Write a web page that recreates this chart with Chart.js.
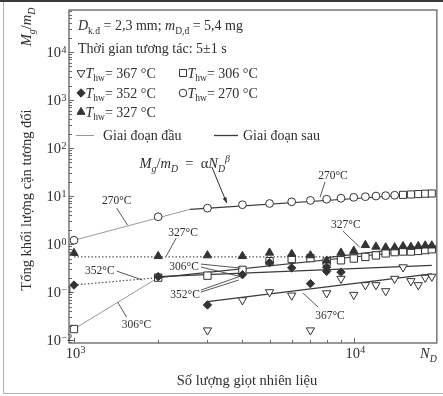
<!DOCTYPE html>
<html lang="vi">
<head>
<meta charset="utf-8">
<title>Tổng khối lượng cặn tương đối</title>
<script src="https://cdn.jsdelivr.net/npm/chart.js@4.4.1/dist/chart.umd.min.js"></script>
<style>
  html, body { margin: 0; padding: 0; background: #fff; }
  #box { position: relative; width: 443px; height: 396px; }
</style>
</head>
<body>
<div id="box"><canvas id="canChart"></canvas></div>
<script>
// measured M_g/m_D against droplet count N_D, one pair of arrays per wall temperature
const nD367 = [3000, 4000, 5000, 6000, 7000, 8000, 9000, 10000, 11000, 12000, 13000, 14000, 15000, 16000, 17000, 18000, 19000];
const mg367 = [0.016, 0.068, 0.1, 0.085, 0.016, 0.095, 0.19, 0.088, 0.14, 0.14, 0.105, 0.19, 0.33, 0.17, 0.14, 0.2, 0.21];

const nD352 = [1000, 2000, 3000, 4000, 5000, 6000, 7000, 8000, 8000, 9000];
const mg352 = [0.14, 0.21, 0.054, 0.23, 0.41, 0.32, 0.15, 0.33, 0.27, 0.26];

const nD327 = [1000, 2000, 3000, 4000, 5000, 6000, 7000, 8000, 9000, 10000, 11000, 12000, 13000, 14000, 15000, 16000, 17000, 18000, 19000];
const mg327 = [0.65, 0.56, 0.58, 0.56, 0.66, 0.62, 0.58, 0.45, 0.66, 0.72, 0.95, 0.88, 0.85, 0.85, 0.9, 0.87, 0.9, 0.93, 0.93];

const nD306 = [1000, 2000, 3000, 4000, 5000, 6000, 7000, 8000, 9000, 10000, 11000, 12000, 13000, 14000, 15000, 16000, 17000, 18000, 19000];
const mg306 = [0.017, 0.2, 0.22, 0.29, 0.44, 0.49, 0.51, 0.43, 0.46, 0.5, 0.54, 0.58, 0.64, 0.68, 0.7, 0.7, 0.72, 0.75, 0.78];

const nD270 = [1000, 2000, 3000, 4000, 5000, 6000, 7000, 8000, 9000, 10000, 11000, 12000, 13000, 14000, 15000, 16000, 17000, 18000, 19000];
const mg270 = [1.2, 3.7, 5.6, 6.6, 7.0, 7.6, 8.1, 8.6, 9.0, 9.4, 9.7, 10.0, 10.2, 10.4, 10.6, 10.8, 11.0, 11.2, 11.3];
const shape270 = ['circle', 'circle', 'circle', 'circle', 'circle', 'circle', 'circle', 'circle', 'circle', 'circle',
                  'circle', 'circle', 'circle', 'circle', 'rect', 'rect', 'rect', 'rect', 'rect'];

// fitted power-law segments M_g/m_D = a*N_D^b, [N_D, M_g/m_D] at each end
const early270 = [[1000, 1.2], [2600, 5.3]];
const late270 = [[2600, 5.3], [19000, 11.3]];
const early327 = [[1000, 0.54], [8500, 0.54]];
const late327 = [[8000, 0.52], [19000, 0.95]];
const early352 = [[1000, 0.14], [2000, 0.2]];
const late352 = [[2000, 0.21], [19000, 0.36]];
const early306 = [[1000, 0.017], [2000, 0.2]];
const late306 = [[2000, 0.2], [19000, 0.8]];
const late367 = [[3000, 0.063], [19000, 0.24]];

// decades that get a "10^n" label
const xDecades = [3, 4];
const yDecades = [-2, -1, 0, 1, 2, 3, 4];

const SERIF = '"Liberation Serif", "Times New Roman", serif';
const INK = '#2e2e2e';

const pts = (xs, ys) => xs.map((v, i) => ({ x: v, y: ys[i] }));
const seg = p => p.map(q => ({ x: q[0], y: q[1] }));

function marks(xs, ys, style, fill, radius, rotation) {
  return {
    data: pts(xs, ys), showLine: false,
    pointStyle: style, pointRadius: radius, pointRotation: rotation || 0,
    pointBackgroundColor: fill, pointBorderColor: '#333', pointBorderWidth: 1
  };
}
function fit(p, dotted) {
  return {
    data: seg(p), showLine: true, pointRadius: 0,
    borderColor: dotted ? '#555' : '#3a3a3a',
    borderWidth: 1.2,
    borderDash: dotted ? [1.5, 2] : []
  };
}
function thin(p) {
  return { data: seg(p), showLine: true, pointRadius: 0, borderColor: '#9a9a9a', borderWidth: 1 };
}

// rich text: parts are [text, flags], flags: i = italic, b = subscript, p = superscript
function rich(ctx, parts, x, y, size, align) {
  const runs = parts.map(([t, f = '']) => {
    const small = f.includes('b') || f.includes('p');
    const font = (f.includes('i') ? 'italic ' : '') + (small ? size * 0.68 : size) + 'px ' + SERIF;
    ctx.font = font;
    const dy = f.includes('b') ? size * 0.28 : f.includes('p') ? -size * 0.42 : 0;
    return { t, font, dy, w: ctx.measureText(t).width };
  });
  const total = runs.reduce((s, r) => s + r.w, 0);
  let cx = align === 'center' ? x - total / 2 : align === 'right' ? x - total : x;
  ctx.textAlign = 'left';
  ctx.textBaseline = 'alphabetic';
  runs.forEach(r => { ctx.font = r.font; ctx.fillText(r.t, cx, y + r.dy); cx += r.w; });
}

function line(ctx, x1, y1, x2, y2) {
  ctx.beginPath(); ctx.moveTo(x1, y1); ctx.lineTo(x2, y2); ctx.stroke();
}

function symbol(ctx, style, fill, radius, rotation, px, py) {
  ctx.save();
  ctx.fillStyle = fill; ctx.strokeStyle = '#333'; ctx.lineWidth = 1;
  Chart.helpers.drawPoint(ctx, { pointStyle: style, radius: radius, rotation: rotation, borderWidth: 1 }, px, py);
  ctx.restore();
}

// temperature callouts, label centre and leader ends in data units
const callouts = [
  { t: '270°C', at: [1421, 8.25], legs: [[[1421, 5.62], [1554, 2.49]]] },
  { t: '270°C', at: [8424, 27.4], legs: [[[7894, 19.6], [7577, 9.53]]] },
  { t: '327°C', at: [2455, 1.78], legs: [[[2319, 1.33], [2137, 0.56]]] },
  { t: '327°C', at: [9368, 2.61], legs: [[[9140, 1.87], [10503, 0.866]]] },
  { t: '352°C', at: [1237, 0.287], legs: [[[1421, 0.274], [1757, 0.178]]] },
  { t: '306°C', at: [2475, 0.348], legs: [[[2844, 0.383], [3941, 0.316]], [[2844, 0.332], [3879, 0.215]]] },
  { t: '352°C', at: [2496, 0.091], legs: [[[2844, 0.11], [3941, 0.215]], [[2844, 0.1], [3879, 0.178]]] },
  { t: '306°C', at: [1673, 0.0215], legs: [[[1541, 0.0302], [1432, 0.0619]]] },
  { t: '367°C', at: [8222, 0.0332], legs: [[[7453, 0.0487], [6592, 0.095]]] }
];
const formulaAt = [1714, 48.7];
const formulaArrow = [[3111, 40.2], [3516, 7.15]];

const decor = {
  id: 'decor',
  beforeDraw(chart) {
    const ctx = chart.ctx;
    ctx.save();
    ctx.fillStyle = '#fff';
    ctx.fillRect(0, 0, chart.width, chart.height);
    ctx.restore();
  },
  afterDraw(chart) {
    const { ctx, chartArea: a, scales: { x, y } } = chart;
    const X = v => x.getPixelForValue(v);
    const Y = v => y.getPixelForValue(v);
    ctx.save();

    // outer edge of the figure
    ctx.fillStyle = '#3c3c3c';
    ctx.fillRect(0, 0, chart.width, 2);
    ctx.strokeStyle = '#b0b0b0'; ctx.lineWidth = 1;
    line(ctx, 3.5, 2, 3.5, 393.5);
    line(ctx, 3.5, 393.5, chart.width, 393.5);

    // plot frame
    ctx.strokeStyle = '#777'; ctx.lineWidth = 1.5;
    ctx.strokeRect(a.left, a.top, a.right - a.left, a.bottom - a.top);

    // inward ticks
    ctx.strokeStyle = '#666'; ctx.lineWidth = 1;
    for (let e = -3; e <= 4; e++) {
      for (let m = 1; m <= 9; m++) {
        const v = m * Math.pow(10, e);
        if (v < y.min || v > y.max) continue;
        const py = Math.round(Y(v)) + 0.5;
        line(ctx, a.left, py, a.left + (m === 1 ? 5 : 3), py);
      }
    }
    for (let e = 2; e <= 4; e++) {
      for (let m = 1; m <= 9; m++) {
        const v = m * Math.pow(10, e);
        if (v < x.min || v > x.max) continue;
        const px = Math.round(X(v)) + 0.5;
        line(ctx, px, a.bottom, px, a.bottom - (m === 1 ? 5 : 3));
      }
    }

    ctx.fillStyle = INK;
    // tick labels
    yDecades.forEach(e => {
      const py = Y(Math.pow(10, e));
      rich(ctx, [['10']], 61, py + 5, 14.5, 'right');
      rich(ctx, [[String(e).replace('-', '−')]], 61.5, py + 0.5, 10, 'left');
    });
    xDecades.forEach(e => {
      const px = X(Math.pow(10, e));
      rich(ctx, [['10']], px - 1, 358, 14.5, 'center');
      rich(ctx, [[String(e)]], px + 6.5, 352.5, 10, 'left');
    });
    rich(ctx, [['N', 'i'], ['D', 'ib']], 420, 358, 14.5, 'left');

    // axis titles
    rich(ctx, [['Số lượng giọt nhiên liệu']], 247, 385, 14.5, 'center');
    ctx.save();
    ctx.translate(31, 200); ctx.rotate(-Math.PI / 2);
    rich(ctx, [['Tổng khối lượng cặn tương đối']], 0, 0, 14.5, 'center');
    ctx.restore();
    ctx.save();
    ctx.translate(31, 27); ctx.rotate(-Math.PI / 2);
    rich(ctx, [['M', 'i'], ['g', 'ib'], ['/'], ['m', 'i'], ['D', 'ib']], 0, 0, 14.5, 'center');
    ctx.restore();

    // key
    const L = 78;
    rich(ctx, [['D', 'i'], ['k.đ', 'b'], [' = 2,3 mm; '], ['m', 'i'], ['D,đ', 'b'], [' = 5,4 mg']], L, 30, 14, 'left');
    rich(ctx, [['Thời gian tương tác: 5±1 s']], L, 53, 14, 'left');
    const rows = [
      ['triangle', '#fff', 4.6, 180, 81, 73, '367'],
      ['rect', '#fff', 5, 0, 183, 73, '306'],
      ['rectRot', '#333', 4.2, 0, 81, 93, '352'],
      ['circle', '#fff', 3.8, 0, 183, 93, '270'],
      ['triangle', '#333', 4.6, 0, 81, 112, '327']
    ];
    rows.forEach(([st, fl, r, rot, sx, sy, t]) => {
      symbol(ctx, st, fl, r, rot, sx, sy);
      ctx.fillStyle = INK;
      rich(ctx, [['T', 'i'], ['hw', 'b'], ['= ' + t + ' °C']], sx + 4.5, sy + 4.5, 14, 'left');
    });
    ctx.strokeStyle = '#9a9a9a'; ctx.lineWidth = 1;
    line(ctx, 76, 135.5, 94, 135.5);
    ctx.strokeStyle = '#3a3a3a'; ctx.lineWidth = 1.3;
    line(ctx, 214, 135.5, 238, 135.5);
    rich(ctx, [['Giai đoạn đầu']], 103, 140, 14, 'left');
    rich(ctx, [['Giai đoạn sau']], 243, 140, 14, 'left');

    // fitted law with arrow
    rich(ctx, [['M', 'i'], ['g', 'ib'], ['/'], ['m', 'i'], ['D', 'ib'], ['  =  '], ['α'], ['N', 'i'], ['D', 'ib'], ['β', 'ip']],
         X(formulaAt[0]), Y(formulaAt[1]) + 5, 14.5, 'left');
    const ax1 = X(formulaArrow[0][0]), ay1 = Y(formulaArrow[0][1]);
    const ax2 = X(formulaArrow[1][0]), ay2 = Y(formulaArrow[1][1]);
    ctx.strokeStyle = '#2e2e2e'; ctx.lineWidth = 1;
    line(ctx, ax1, ay1, ax2, ay2);
    const ang = Math.atan2(ay2 - ay1, ax2 - ax1);
    ctx.beginPath();
    ctx.moveTo(ax2, ay2);
    ctx.lineTo(ax2 - 6 * Math.cos(ang - 0.35), ay2 - 6 * Math.sin(ang - 0.35));
    ctx.lineTo(ax2 - 6 * Math.cos(ang + 0.35), ay2 - 6 * Math.sin(ang + 0.35));
    ctx.closePath();
    ctx.fillStyle = '#2e2e2e'; ctx.fill();

    // temperature callouts
    callouts.forEach(c => {
      ctx.fillStyle = INK;
      rich(ctx, [[c.t]], X(c.at[0]), Y(c.at[1]) + 4, 11.5, 'center');
      ctx.strokeStyle = '#444'; ctx.lineWidth = 0.9;
      c.legs.forEach(([p, q]) => line(ctx, X(p[0]), Y(p[1]), X(q[0]), Y(q[1])));
    });

    ctx.restore();
  }
};

new Chart(document.getElementById('canChart'), {
  type: 'scatter',
  data: {
    datasets: [
      marks(nD367, mg367, 'triangle', '#fff', 4.8, 180),
      marks(nD352, mg352, 'rectRot', '#333', 4.2),
      marks(nD327, mg327, 'triangle', '#333', 4.8),
      marks(nD306, mg306, 'rect', '#fff', 5.2),
      marks(nD270, mg270, shape270, '#fff', shape270.map(s => s === 'rect' ? 5 : 3.9)),
      fit(late270), fit(late327), fit(late352), fit(late306), fit(late367),
      fit(early327, true), fit(early352, true),
      thin(early270), thin(early306)
    ]
  },
  options: {
    responsive: true,
    maintainAspectRatio: false,
    animation: false,
    layout: { padding: { left: 69, right: 3, top: 10, bottom: 53 } },
    plugins: { legend: { display: false }, tooltip: { enabled: false } },
    scales: {
      x: { type: 'logarithmic', min: 960, max: 19800, bounds: 'data', display: false },
      y: { type: 'logarithmic', min: 0.0087, max: 75000, bounds: 'data', display: false }
    }
  },
  plugins: [decor]
});
</script>
</body>
</html>
